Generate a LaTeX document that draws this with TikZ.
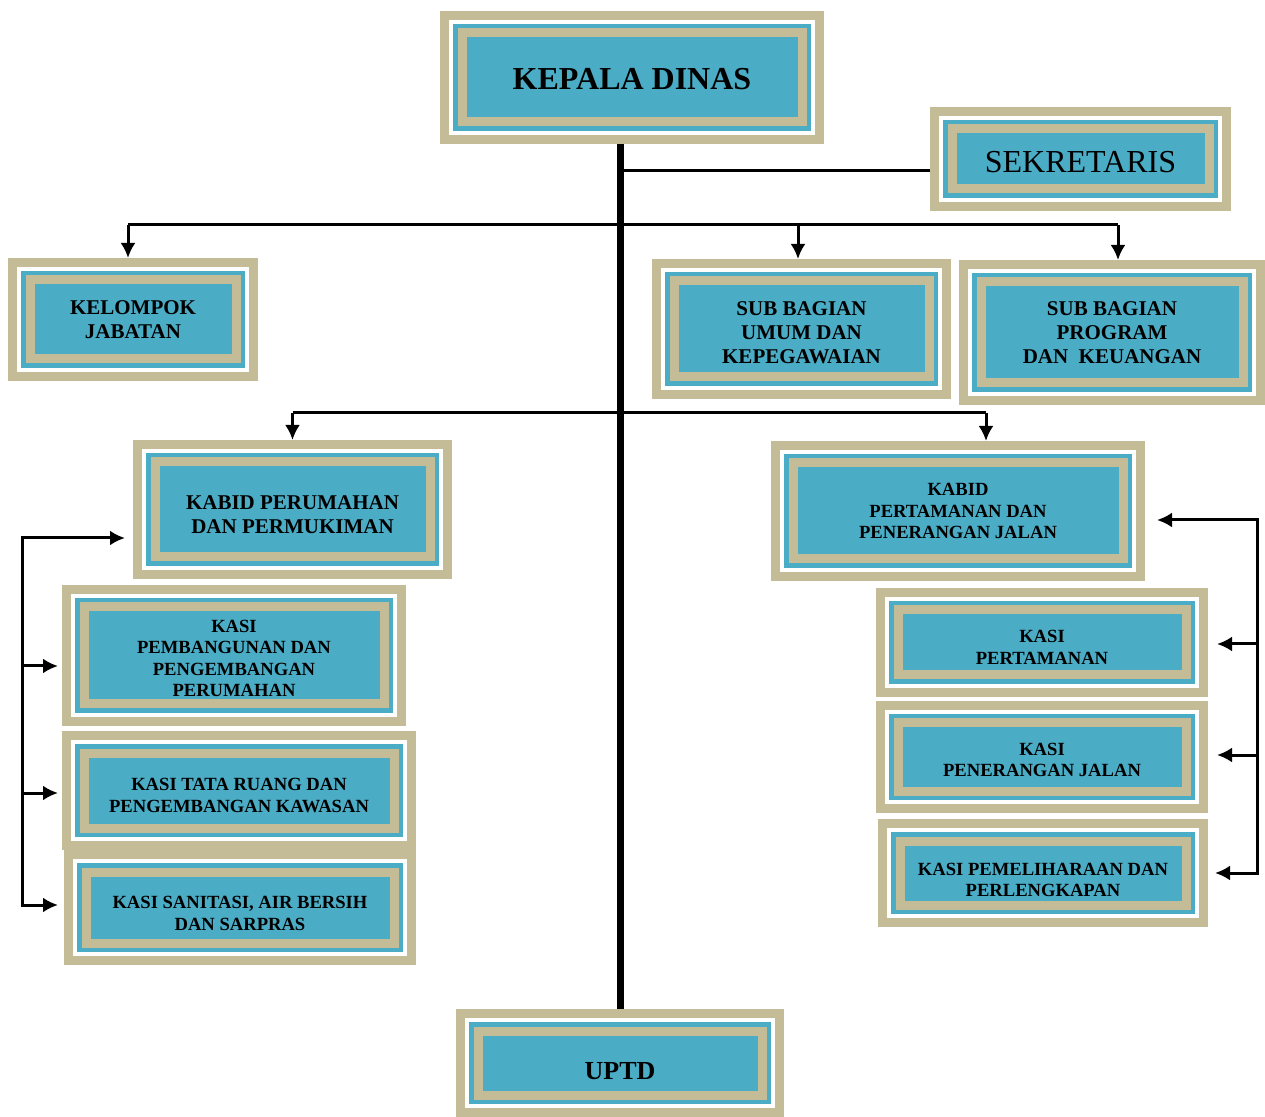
\documentclass[tikz,border=0pt]{standalone}
\usepackage{fontspec}
\setmainfont{Liberation Serif}
\usepackage{tikz}
\usetikzlibrary{positioning, calc, arrows.meta}
\definecolor{frametan}{HTML}{C4BC96}
\definecolor{frameblue}{HTML}{4BACC6}
\newcommand\orgbigfont{\fontsize{16}{19}\selectfont\bfseries}
\newcommand\orgmidfont{\fontsize{10.5}{12}\selectfont\bfseries}
\newcommand\orgsmallfont{\fontsize{9.3}{10.8}\selectfont\bfseries}
% lowers the text of a box a little, as in the original chart
\newcommand\orgdrop[1]{\rule{0pt}{\dimexpr\fontcharht\font`H+#1+#1\relax}}

\begin{document}
\begin{tikzpicture}[x=0.5pt, y=-0.5pt, >={Latex[length=7.5pt,width=7.5pt]},
	orgbox/.style 2 args={rectangle, fill=frametan, inner sep=0pt, outer sep=0pt, align=center, font=\orgmidfont, minimum width=#1*0.5pt, minimum height=#2*0.5pt,
		path picture={
			\foreach \d/\c in {4.5pt/white, 6.5pt/frameblue, 8.75pt/frametan, 13.25pt/frameblue}
				\fill[\c] ([shift={(\d,\d)}]path picture bounding box.south west) rectangle ([shift={(-\d,-\d)}]path picture bounding box.north east);
		}},
	link/.style={line width=1.5pt},
	flow/.style={link, ->}]
\useasboundingbox (0,0) rectangle (1265,1117);

% pimpinan
\node[orgbox={384}{133}, font=\orgbigfont] (kepala) at (632,77.5) {\orgdrop{1pt}KEPALA DINAS};
\node[orgbox={301}{104}, font=\fontsize{16}{19}\selectfont] (sekretaris) at (1080.5,159) {\orgdrop{1.5pt}SEKRETARIS};
\node[orgbox={328}{108}, font=\fontsize{13}{15}\selectfont\bfseries] (uptd) at (620,1063) {\orgdrop{4pt}UPTD};

% sekretariat
\node[orgbox={250}{123}] (kelompok) at (133,319.5) {KELOMPOK\\JABATAN};
\node[orgbox={299}{140}] (subumum) at (801.5,329) {\orgdrop{2pt}SUB BAGIAN\\UMUM DAN\\KEPEGAWAIAN};
\node[orgbox={306}{145}] (subprogram) at (1112,332.5) {SUB BAGIAN\\PROGRAM\\DAN\ \ KEUANGAN};

% bidang
\node[orgbox={319}{139}] (kabidrumah) at (292.5,509.5) {\orgdrop{2.5pt}KABID PERUMAHAN\\DAN PERMUKIMAN};
\node[orgbox={374}{140}, font=\orgsmallfont] (kabidtaman) at (958,511) {KABID\\PERTAMANAN DAN\\PENERANGAN JALAN};

% seksi
\node[orgbox={344}{141}, font=\orgsmallfont] (kasibangun) at (234,655.5) {\orgdrop{1.5pt}KASI\\PEMBANGUNAN DAN\\PENGEMBANGAN\\PERUMAHAN};
\node[orgbox={354}{119}, font=\orgsmallfont] (kasiruang) at (239,790.5) {\orgdrop{2.5pt}KASI TATA RUANG DAN\\PENGEMBANGAN KAWASAN};
\node[orgbox={352}{115}, font=\orgsmallfont] (kasisanit) at (240,907.5) {\orgdrop{3pt}KASI SANITASI, AIR BERSIH\\DAN SARPRAS};
\node[orgbox={332}{109}, font=\orgsmallfont] (kasitaman) at (1042,642.5) {\orgdrop{2.5pt}KASI\\PERTAMANAN};
\node[orgbox={332}{112}, font=\orgsmallfont] (kasijalan) at (1042,757) {\orgdrop{1.5pt}KASI\\PENERANGAN JALAN};
\node[orgbox={330}{108}, font=\orgsmallfont] (kasipelihara) at (1043,873) {\orgdrop{3.5pt}KASI PEMELIHARAAN DAN\\PERLENGKAPAN};

% garis komando
\coordinate (rowa) at (0,225);
\coordinate (rowb) at (0,413);
\coordinate (kelompoktop) at ([xshift=-2.5pt]kelompok.north);
\coordinate (subumumtop) at ([xshift=-1.75pt]subumum.north);
\coordinate (subprogramtop) at ([xshift=3pt]subprogram.north);
\coordinate (kabidrumahtop) at (kabidrumah.north);
\coordinate (kabidtamantop) at ([xshift=14pt]kabidtaman.north);
\draw[link] (kelompoktop |- rowa) -- (subprogramtop |- rowa);
\foreach \n in {kelompok, subumum, subprogram}
	\draw[flow] (\n top |- rowa) -- (\n top);
\draw[link] (kabidrumahtop |- rowb) -- (kabidtamantop |- rowb);
\foreach \n in {kabidrumah, kabidtaman}
	\draw[flow] (\n top |- rowb) -- (\n top);
\coordinate (sekin) at ([yshift=-6pt]sekretaris.west);
\draw[link] (sekin -| uptd.north) -- (sekin);
\draw[line width=3.5pt] (uptd.north |- kepala.south) -- (uptd.north);

% bidang perumahan
\coordinate (lbus) at (22,0);
\coordinate (kabidrumahin) at ([shift={(-4pt,-14.25pt)}]kabidrumah.west);
\coordinate (kasibangunin) at ([shift={(-2pt,-5.25pt)}]kasibangun.west);
\coordinate (kasiruangin) at ([shift={(-2pt,-1.25pt)}]kasiruang.west);
\coordinate (kasisanitin) at ([shift={(-3pt,1.25pt)}]kasisanit.west);
\draw[link, <->] (kasisanitin) -- (kasisanitin -| lbus) -- (kabidrumahin -| lbus) -- (kabidrumahin);
\foreach \n in {kasibangun, kasiruang}
	\draw[flow] (\n in -| lbus) -- (\n in);

% bidang pertamanan
\coordinate (rbus) at (1257,0);
\coordinate (kabidtamanin) at ([shift={(6pt,-4.5pt)}]kabidtaman.east);
\coordinate (kasitamanin) at ([shift={(4.5pt,-0.75pt)}]kasitaman.east);
\coordinate (kasijalanin) at ([shift={(4.5pt,1pt)}]kasijalan.east);
\coordinate (kasipeliharain) at ([shift={(3.5pt,0pt)}]kasipelihara.east);
\draw[link, <->] (kasipeliharain) -- (kasipeliharain -| rbus) -- (kabidtamanin -| rbus) -- (kabidtamanin);
\foreach \n in {kasitaman, kasijalan}
	\draw[flow] (\n in -| rbus) -- (\n in);
\end{tikzpicture}
\end{document}
